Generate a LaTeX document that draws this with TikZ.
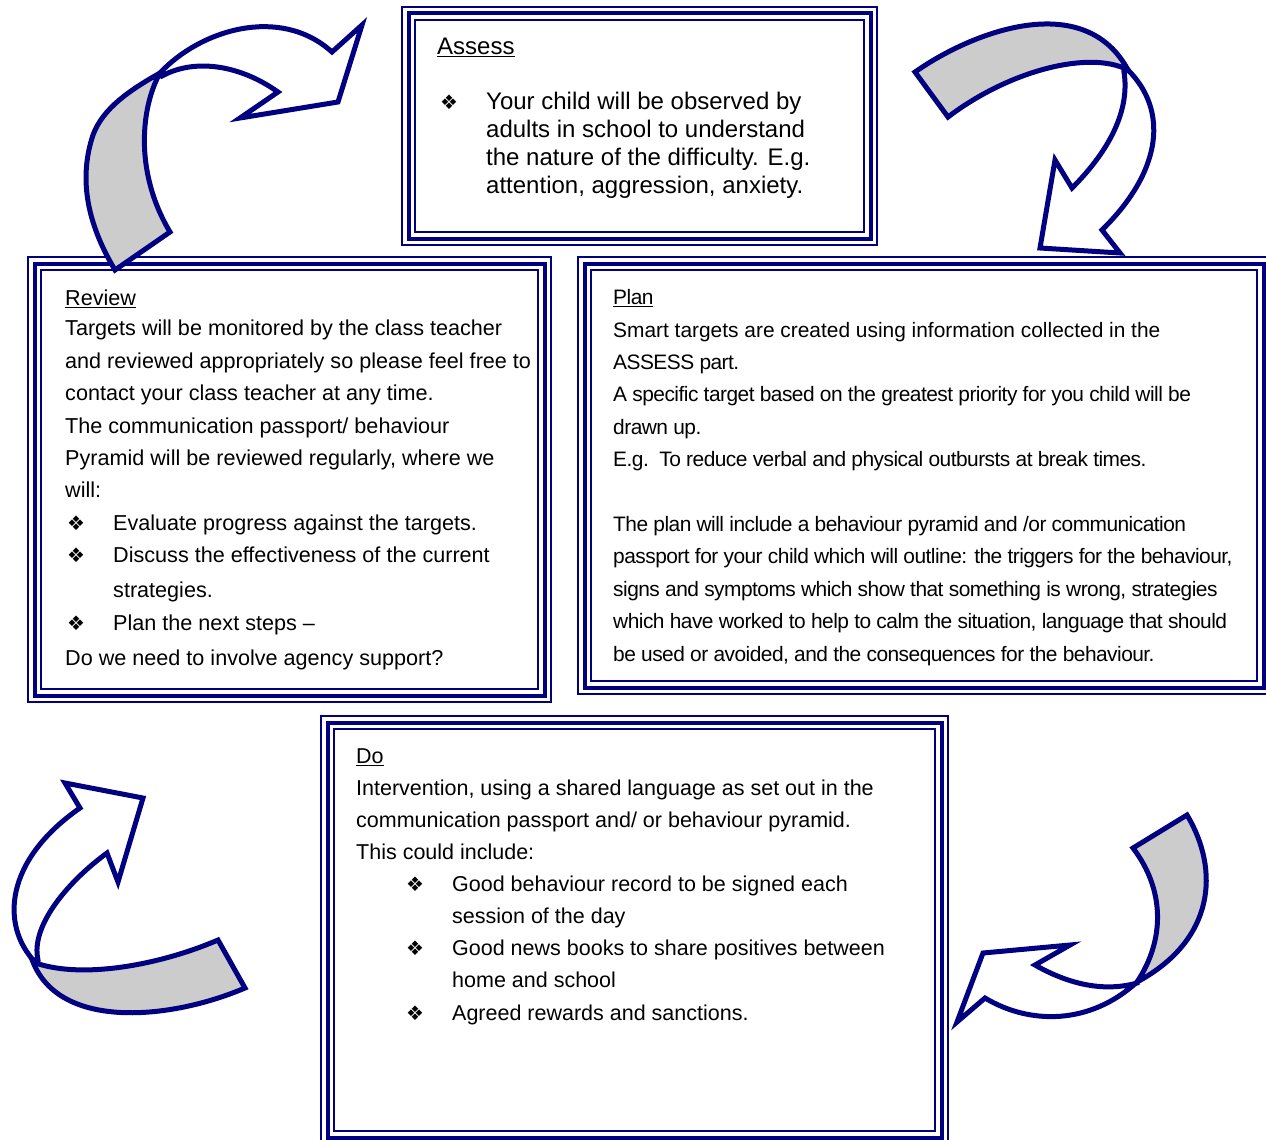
\documentclass[tikz,border=0pt]{standalone}
\usepackage{fontspec}
\setmainfont{Liberation Sans}
\newfontfamily\dingfont{DejaVu Sans}
\usetikzlibrary{calc}

\definecolor{navy}{RGB}{0,0,128}
\definecolor{ribbon}{RGB}{204,204,204}
\newcommand{\dia}{{\dingfont\fontsize{20}{20}\selectfont ❖}}

\begin{document}
\begin{tikzpicture}[x=1pt, y=-1pt
        , panel/.style={ draw=navy, line width=4pt, inner sep=0pt, outer sep=0pt, anchor=north west }
        , rule/.style={ draw=navy, line width=1.6pt }
        , txt/.style={ align=left, inner sep=0pt, anchor=base west }
        , turn/.style={ draw=navy, line width=5pt, line join=miter }
        ]

        \useasboundingbox (0,0) rectangle (1266,1140);
        \clip (0,0) rectangle (1266,1140);

        % the four stages, thick middle line of each frame
        \node[panel, minimum width=462pt, minimum height=225pt] (assess) at (408.5,13.5) {};
        \node[panel, minimum width=510pt, minimum height=432pt] (review) at (34.5,263.5) {};
        \node[panel, minimum width=679pt, minimum height=424pt] (plan) at (584.5,263.5) {};
        \node[panel, minimum width=614pt, minimum height=415pt] (dostep) at (327.5,722.5) {};

        % thin lines outside and inside
        \foreach \b in {assess,review,plan,dostep} {
            \draw[rule] ($(\b.north west)+(-6.5,-6.5)$) rectangle ($(\b.south east)+(6.5,6.5)$);
            \draw[rule] ($(\b.north west)+(6.5,6.5)$) rectangle ($(\b.south east)+(-6.5,-6.5)$);
        }

        % texts, placed at the baseline of their last line
        \node[txt, font=\fontsize{24}{27.7}\selectfont] (assesstext) at (437,193) {%
            \underline{Assess}\\[27.7pt]
            \hspace*{3pt}\makebox[46pt][l]{\dia}Your child will be observed by\\
            \hspace*{49pt}adults in school to understand\\
            \hspace*{49pt}the nature of the difficulty. E.g.\\
            \hspace*{49pt}attention, aggression, anxiety.};

        \node[txt, font=\fontsize{21.6}{32.4}\selectfont] (reviewtext) at (65,665) {%
            \underline{Review}\\[-2.4pt]
            Targets will be monitored by the class teacher\\
            and reviewed appropriately so please feel free to\\
            contact your class teacher at any time.\\
            The communication passport/ behaviour\\
            Pyramid will be reviewed regularly, where we\\
            will:\\
            \makebox[48pt][l]{\hspace{2pt}\dia}Evaluate progress against the targets.\\
            \makebox[48pt][l]{\hspace{2pt}\dia}Discuss the effectiveness of the current\\[2.6pt]
            \hspace*{48pt}strategies.\\
            \makebox[48pt][l]{\hspace{2pt}\dia}Plan the next steps –\\[2.6pt]
            Do we need to involve agency support?};

        \node[txt, font=\fontsize{20.9}{32.4}\selectfont\addfontfeature{LetterSpace=-2.5}] (plantext) at (613,661) {%
            \underline{Plan}\\
            {\addfontfeature{LetterSpace=0}Smart targets are created using information collected in the}\\
            ASSESS part.\\
            A specific target based on the greatest priority for you child will be\\
            drawn up.\\
            E.g.\ \ To reduce verbal and physical outbursts at break times.\\[32.4pt]
            The plan will include a behaviour pyramid and /or communication\\
            passport for your child which will outline: the triggers for the behaviour,\\
            signs and symptoms which show that something is wrong, strategies\\
            which have worked to help to calm the situation, language that should\\
            be used or avoided, and the consequences for the behaviour.};

        \node[txt, font=\fontsize{21.5}{32.1}\selectfont] (dotext) at (356,1020) {%
            \underline{Do}\\
            Intervention, using a shared language as set out in the\\
            communication passport and/ or behaviour pyramid.\\
            This could include:\\
            \hspace*{50pt}\makebox[46pt][l]{\dia}Good behaviour record to be signed each\\
            \hspace*{96pt}session of the day\\
            \hspace*{50pt}\makebox[46pt][l]{\dia}Good news books to share positives between\\
            \hspace*{96pt}home and school\\
            \hspace*{50pt}\makebox[46pt][l]{\dia}Agreed rewards and sanctions.};

        % curved arrows round the cycle
        \filldraw[turn, fill=ribbon] (115,270) .. controls (88,225) and (78,180) .. (93,135)
            .. controls (103,108) and (130,90) .. (160,73)
            .. controls (142,105) and (133,170) .. (170,232) -- cycle;
        \filldraw[turn, fill=white] (160,73) .. controls (200,30) and (280,5) .. (332,52)
            -- (362,25) -- (338,102) -- (240,118) -- (278,92)
            .. controls (240,65) and (195,58) .. (162,76) -- cycle;

        \filldraw[turn, fill=ribbon] (915,72) .. controls (975,30) and (1085,-10) .. (1128,70)
            .. controls (1090,50) and (1010,70) .. (948,117) -- cycle;
        \filldraw[turn, fill=white] (1128,70) .. controls (1168,110) and (1163,170) .. (1102,230)
            -- (1120,253) -- (1040,248) -- (1055,160) -- (1072,188)
            .. controls (1110,150) and (1130,110) .. (1124,72) -- cycle;

        \filldraw[turn, fill=ribbon] (245,988) .. controls (170,1020) and (60,1030) .. (33,962)
            .. controls (80,980) and (160,965) .. (218,940) -- cycle;
        \filldraw[turn, fill=white] (35,962) .. controls (0,925) and (5,860) .. (80,808)
            -- (65,783) -- (143,798) -- (118,882) -- (107,853)
            .. controls (70,880) and (30,925) .. (38,960) -- cycle;

        \filldraw[turn, fill=ribbon] (1133,848) -- (1187,815) .. controls (1220,870) and (1215,940) .. (1137,982)
            .. controls (1165,940) and (1165,890) .. (1133,848) -- cycle;
        \filldraw[turn, fill=white] (1137,982) .. controls (1090,1025) and (1030,1025) .. (985,998)
            -- (957,1022) -- (983,953) -- (1070,945) -- (1035,965)
            .. controls (1070,985) and (1105,992) .. (1137,983) -- cycle;

\end{tikzpicture}
\end{document}
